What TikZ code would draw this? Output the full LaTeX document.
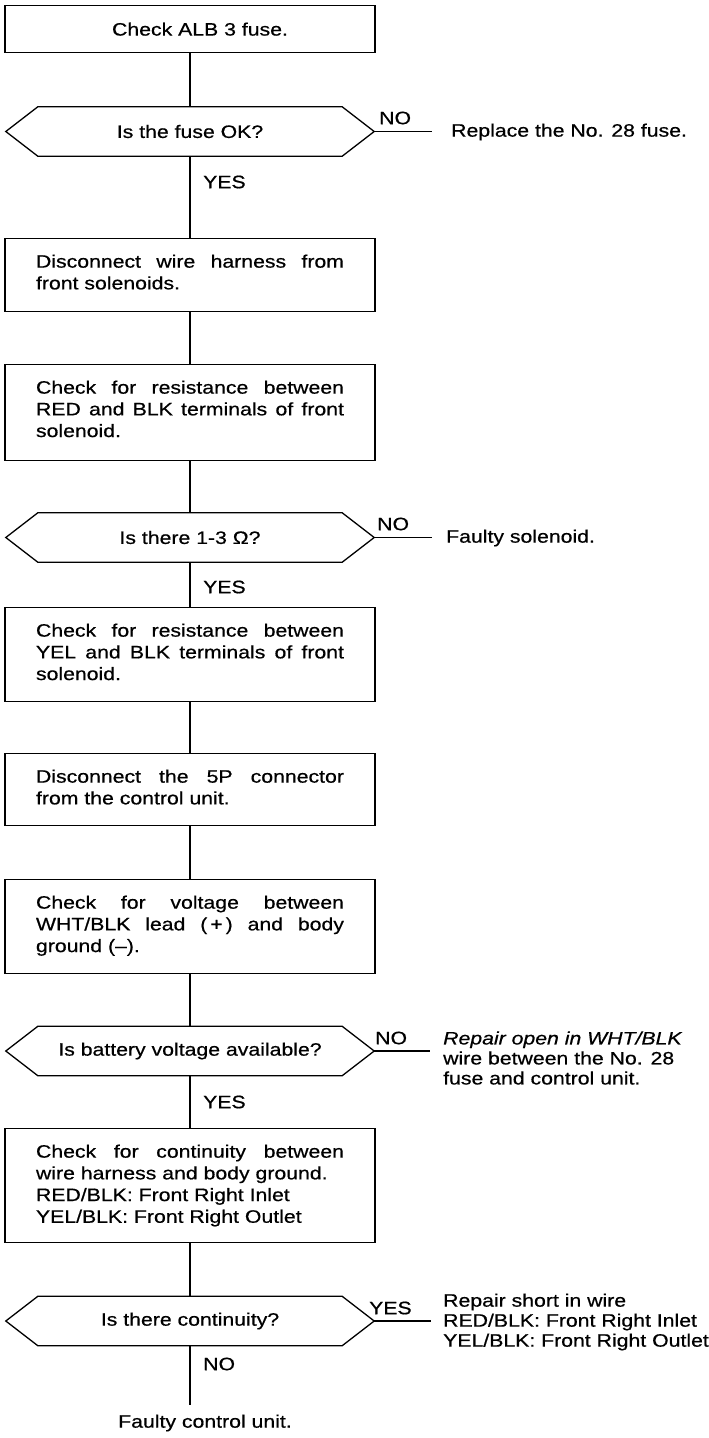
\documentclass[tikz,border=0pt]{standalone}
\usepackage{fontspec}
\setmainfont{Liberation Sans}[FakeStretch=1.18,FakeBold=0.6]
\usetikzlibrary{calc}
\newcommand\bt[2]{\parbox[c][#1][t]{308pt}{\fontsize{18}{21.7}\selectfont\rule{0pt}{29pt}#2}}
\newcommand\drawdec[1]{\draw[conn] (#1.west) -- ([xshift=32pt]#1.north west) -- ([xshift=-32pt]#1.north east) -- (#1.east) -- ([xshift=-32pt]#1.south east) -- ([xshift=32pt]#1.south west) -- cycle;}
\begin{document}
\begin{tikzpicture}[x=1pt,y=-1pt,
 conn/.style={line width=1.3pt, line join=miter},
 box/.style={draw, line width=1.3pt, inner xsep=31pt, inner ysep=0pt, anchor=north},
 dec/.style={minimum width=368pt, minimum height=49pt, inner sep=0pt, font=\fontsize{18}{21.7}\selectfont},
 lbl/.style={inner sep=0pt, anchor=west, font=\fontsize{18}{20}\selectfont},
 side/.style={anchor=west, align=left, inner sep=0pt, font=\fontsize{18}{20}\selectfont}]
\useasboundingbox (0,0) rectangle (709,1438);

% boxes and decisions
\node[draw, line width=1.3pt, minimum width=370pt, minimum height=47pt, inner sep=0pt, anchor=north, font=\fontsize{18}{21.7}\selectfont] (b1) at (190,5) {\hspace*{20pt}Check ALB 3 fuse.};
\node[dec] (d1) at (190,131.5) {Is the fuse OK?};
\node[box] (b2) at (190,238) {\bt{73pt}{Disconnect wire harness from\linebreak front solenoids.}};
\node[box] (b3) at (190,364) {\bt{96pt}{Check for resistance between\linebreak RED and BLK terminals of front\linebreak solenoid.}};
\node[dec] (d2) at (190,537.5) {Is there 1-3 Ω?};
\node[box] (b4) at (190,607) {\bt{94pt}{Check for resistance between\linebreak YEL and BLK terminals of front\linebreak solenoid.}};
\node[box] (b5) at (190,753) {\bt{72pt}{Disconnect the 5P connector\linebreak from the control unit.}};
\node[box] (b6) at (190,879) {\bt{94pt}{Check for voltage between\linebreak WHT/BLK lead (\thinspace+\thinspace) and body\linebreak ground (--).}};
\node[dec] (d3) at (190,1051) {Is battery voltage available?};
\node[box] (b7) at (190,1128) {\bt{114pt}{Check for continuity between\linebreak wire harness and body ground.\\ RED/BLK: Front Right Inlet\\ YEL/BLK: Front Right Outlet}};
\node[dec] (d4) at (190,1321) {Is there continuity?};

\drawdec{d1}
\drawdec{d2}
\drawdec{d3}
\drawdec{d4}

% vertical connectors
\draw[conn] (b1.south) -- (d1.north);
\draw[conn] (d1.south) -- (b2.north);
\draw[conn] (b2.south) -- (b3.north);
\draw[conn] (b3.south) -- (d2.north);
\draw[conn] (d2.south) -- (b4.north);
\draw[conn] (b4.south) -- (b5.north);
\draw[conn] (b5.south) -- (b6.north);
\draw[conn] (b6.south) -- (d3.north);
\draw[conn] (d3.south) -- (b7.north);
\draw[conn] (b7.south) -- (d4.north);
\coordinate (endc) at (190,1405);
\draw[conn] (d4.south) -- (endc);

% down labels
\node[lbl] (y1) at (203,182) {YES};
\node[lbl] (y2) at (203,587) {YES};
\node[lbl] (y3) at (203,1102) {YES};
\node[lbl] (n4) at (203,1364) {NO};

% side branches
\coordinate (r1) at (432,131.5);
\coordinate (r2) at (432,537.5);
\coordinate (r3) at (430,1051);
\coordinate (r4) at (431,1321);
\draw[conn] (d1.east) -- (r1);
\draw[conn] (d2.east) -- (r2);
\draw[conn] (d3.east) -- (r3);
\draw[conn] (d4.east) -- (r4);

\node[lbl] (nl1) at (379,118) {NO};
\node[lbl] (nl2) at (377,524) {NO};
\node[lbl] (nl3) at (375,1038) {NO};
\node[lbl] (yl4) at (369,1308) {YES};

\node[side] (t1) at (451,132) {Replace the No. 28 fuse.};
\node[side] (t2) at (446,538) {Faulty solenoid.};
\node[side] (t3) at (443,1058) {\itshape Repair open in WHT/BLK\\ wire between the No. 28\\ fuse and control unit.};
\node[side] (t4) at (443,1322) {Repair short in wire\\ RED/BLK: Front Right Inlet\\ YEL/BLK: Front Right Outlet};

\node[inner sep=0pt, font=\fontsize{18}{20}\selectfont] (fin) at (205,1423) {Faulty control unit.};
\end{tikzpicture}
\end{document}
